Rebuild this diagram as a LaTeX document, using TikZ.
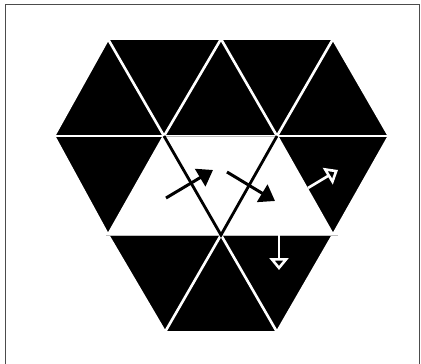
\documentclass[tikz,border=0pt]{standalone}
\usetikzlibrary{arrows.meta}
\begin{document}
\begin{tikzpicture}[x=1pt,y=-1pt,
  tri/.style={fill=black},
  gridline/.style={white,line width=2.6pt,line cap=round},
  innerline/.style={black,line width=2.8pt},
  faint/.style={black!25,line width=1pt},
  blackarrow/.style={black,line width=3pt,-{Triangle[length=15pt,width=20pt]}},
  whitearrow/.style={white,line width=2.6pt,-{Triangle[open,length=12pt,width=19pt,line width=2.6pt]}}]
\useasboundingbox (0,0) rectangle (421,364);
% frame
\draw[black!70,line width=1.2pt] (5.5,370) -- (5.5,4.5) -- (419.5,4.5) -- (419.5,370);
% vertices
\coordinate (t1) at (108,39); \coordinate (t2) at (221,39); \coordinate (t3) at (333,39);
\coordinate (m0) at (54,136); \coordinate (m1) at (164,136); \coordinate (m2) at (277,136); \coordinate (m3) at (389,136);
\coordinate (l1) at (108,235); \coordinate (l2) at (221,235); \coordinate (l3) at (333,235);
\coordinate (b1) at (165,332); \coordinate (b2) at (277,332);
% black triangles
\fill[tri] (m0) -- (m1) -- (t1) -- cycle;
\fill[tri] (t1) -- (t2) -- (m1) -- cycle;
\fill[tri] (m1) -- (m2) -- (t2) -- cycle;
\fill[tri] (t2) -- (t3) -- (m2) -- cycle;
\fill[tri] (m2) -- (m3) -- (t3) -- cycle;
\fill[tri] (m0) -- (m1) -- (l1) -- cycle;
\fill[tri] (m2) -- (m3) -- (l3) -- cycle;
\fill[tri] (l1) -- (l2) -- (b1) -- cycle;
\fill[tri] (b1) -- (b2) -- (l2) -- cycle;
\fill[tri] (l2) -- (l3) -- (b2) -- cycle;
% white grid lines
\draw[gridline] (m0) -- (t1) (t1) -- (m1) (m1) -- (t2) (t2) -- (m2) (m2) -- (t3) (t3) -- (m3);
\draw[gridline] (m0) -- (l1) (l1) -- (m1) (m2) -- (l3) (l3) -- (m3);
\draw[gridline] (l1) -- (b1) (b1) -- (l2) (l2) -- (b2) (b2) -- (l3);
\draw[gridline] (t1) -- (t3) (m0) -- (m3) (l1) -- (l3) (b1) -- (b2);
% faint lines in white area
\draw[faint] (106,235) -- (338,235);
\draw[faint] (m1) -- (m2);
% black inner lines
\draw[innerline] (m1) -- (l2) -- (m2);
% arrows
\coordinate (a1s) at (166,198); \coordinate (a1e) at (213,170);
\coordinate (a2s) at (227,172); \coordinate (a2e) at (275,201);
\coordinate (a3s) at (308,188); \coordinate (a3e) at (338,170);
\coordinate (a4s) at (279,235) ; \coordinate (a4e) at (279,270);
\draw[blackarrow] (a1s) -- (a1e);
\draw[blackarrow] (a2s) -- (a2e);
\draw[whitearrow] (a3s) -- (a3e);
\draw[whitearrow] (a4s) -- (a4e);
\end{tikzpicture}
\end{document}
